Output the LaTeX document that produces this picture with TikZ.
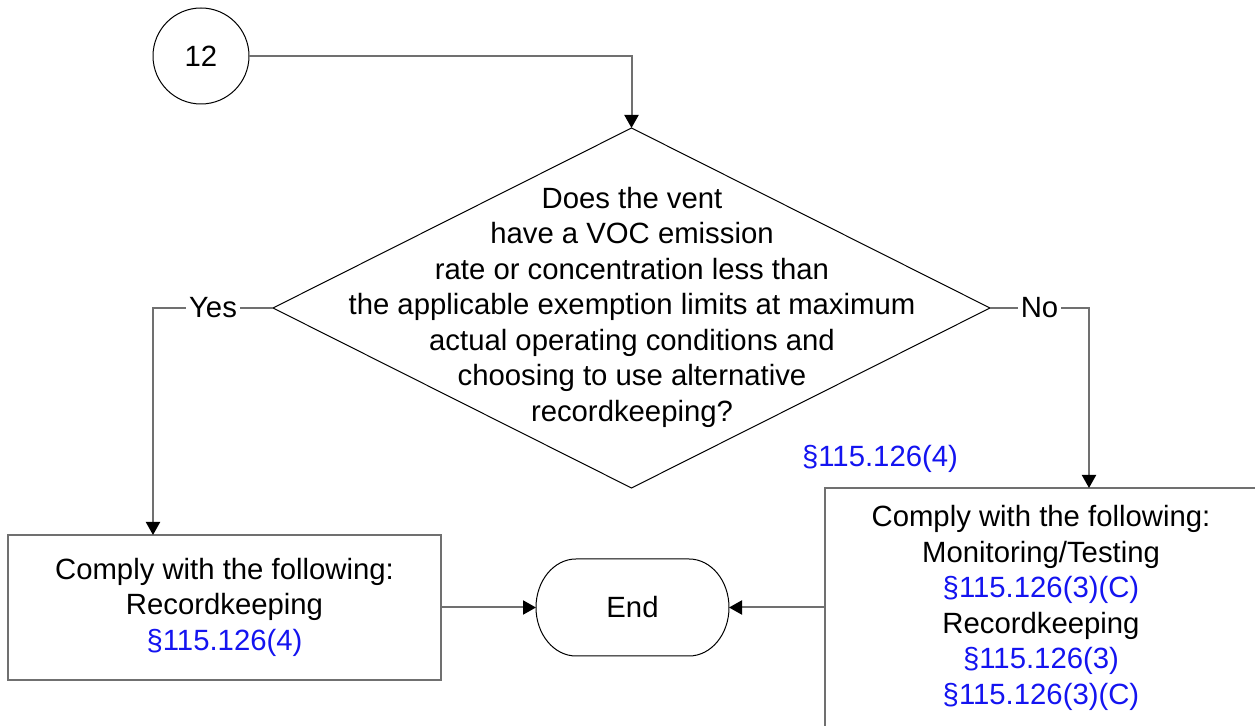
\documentclass[tikz,border=0pt]{standalone}
\usepackage{fontspec}
\setmainfont{Liberation Sans}
\usetikzlibrary{arrows.meta,shapes.geometric}
\definecolor{linegray}{RGB}{112,112,112}
\definecolor{refblue}{RGB}{20,20,240}
\begin{document}
\begin{tikzpicture}[x=0.5pt,y=-0.5pt,
  every node/.style={font=\fontsize{14.65pt}{17.75pt}\selectfont, inner sep=0pt, outer sep=0pt},
  conn/.style={draw=linegray, line width=1pt},
  arr/.style={conn, -{Triangle[length=6.5pt,width=7pt,color=black]}},
  thinline/.style={draw=black, line width=0.5pt},
  boxstyle/.style={draw=linegray, line width=1pt, rectangle},
  lbl/.style={fill=white, inner xsep=1.5pt, inner ysep=1pt},
  ref/.style={text=refblue}
]
\clip (0,0) rectangle (1255,726);
\fill[white] (0,0) rectangle (1255,726);

% connector circle
\node[circle, thinline, minimum size=48pt] (c12) at (201,56) {12};

% decision diamond
\node[diamond, thinline, minimum width=358.5pt, minimum height=180pt] (dia) at (631.5,308) {};
\node[align=center] (diatext) at (632,307) {Does the vent\\have a VOC emission\\rate or concentration less than\\the applicable exemption limits at maximum\\actual operating conditions and\\choosing to use alternative\\recordkeeping?};

\node[ref] (secref) at (880,459) {§115.126(4)};

% left box
\node[boxstyle, minimum width=216.5pt, minimum height=72.5pt] (lbox) at (224.5,607.5) {};
\node[align=center] (ltext) at (224.5,607) {Comply with the following:\\Recordkeeping\\\textcolor{refblue}{§115.126(4)}};

% right box (runs off the page)
\node[boxstyle, minimum width=225pt, minimum height=130pt, anchor=north west] (rbox) at (825,488) {};
\node[align=center] (rtext) at (1041,608) {Comply with the following:\\Monitoring/Testing\\\textcolor{refblue}{§115.126(3)(C)}\\Recordkeeping\\\textcolor{refblue}{§115.126(3)}\\\textcolor{refblue}{§115.126(3)(C)}};

% terminal
\node[minimum width=96.5pt, minimum height=48.5pt] (endn) at (632.5,607.5) {End};
\draw[thinline] ([xshift=20pt]endn.north west)
  arc[start angle=90, end angle=270, x radius=20pt, y radius=24.25pt]
  -- ([xshift=-20pt]endn.south east)
  arc[start angle=270, end angle=450, x radius=20pt, y radius=24.25pt]
  -- cycle;

% connectors
\draw[arr] (c12.east) -| (dia.north);
\draw[arr] (dia.west) -| node[lbl, pos=0.25] (yes) {Yes} ([xshift=72.5pt]lbox.north west);
\draw[arr] (dia.east) -| node[lbl, pos=0.25] (no) {No} ([xshift=132pt]rbox.north west);
\draw[arr] (lbox.east) -- (endn.west);
\draw[arr] (endn.east -| rbox.west) -- (endn.east);
\end{tikzpicture}
\end{document}
